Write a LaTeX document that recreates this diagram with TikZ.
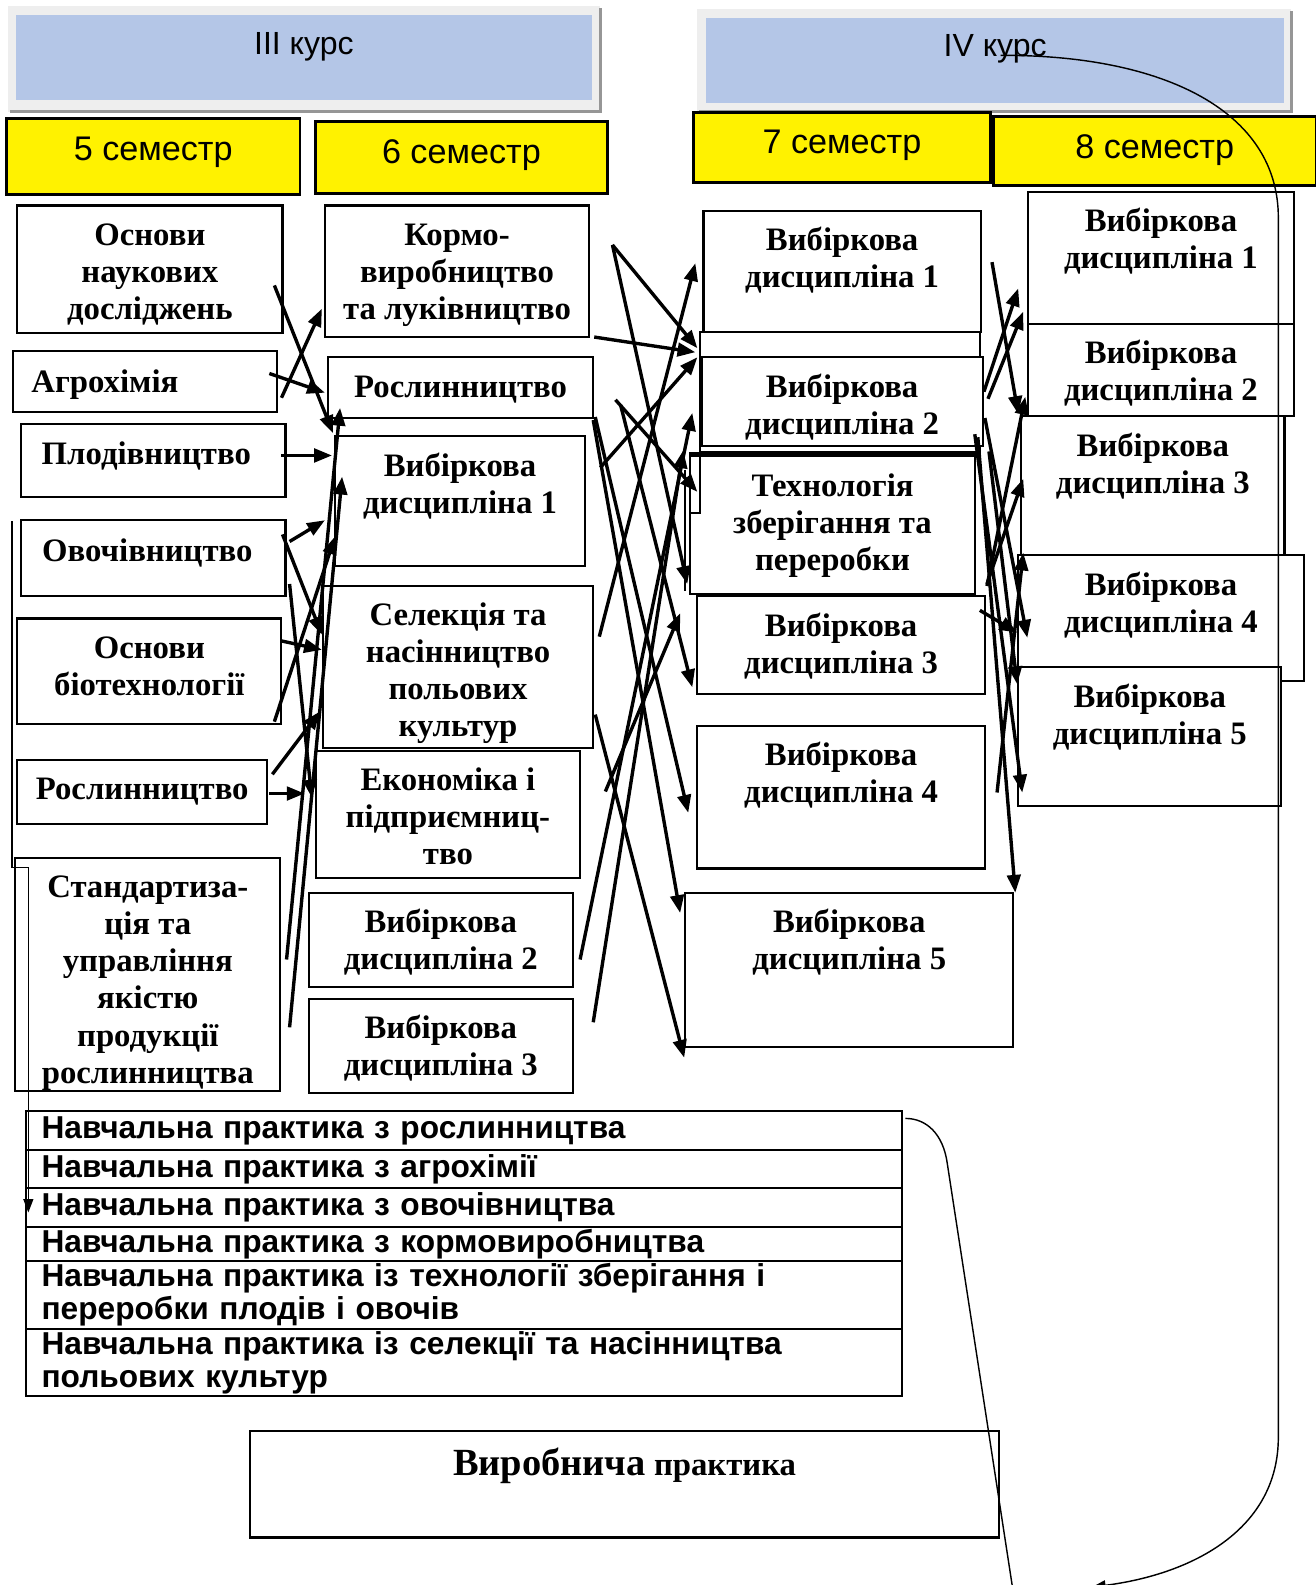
\documentclass[tikz,border=0pt]{standalone}
\usepackage{fontspec}
\setmainfont{Liberation Serif}
\newfontfamily\headfont{Liberation Sans}
\usetikzlibrary{arrows.meta}
\definecolor{kursblue}{RGB}{180,198,231}
\definecolor{framegray}{RGB}{238,238,238}
\definecolor{shadegray}{RGB}{150,150,150}
\newlength\pxu
\setlength\pxu{0.01cm}
% box of fixed size, text at the top
\newcommand{\toptext}[4]{\parbox[c][#2\pxu][t]{#1\pxu}{\centering\vspace*{#3\pxu}\strut#4}}
\begin{document}
\begin{tikzpicture}[x=0.01cm, y=-0.01cm,
    disc/.style={draw, fill=white, line width=0.6pt, anchor=north west, inner sep=0pt,
      font=\bfseries\fontsize{9.2}{10.4}\selectfont},
    sem/.style={draw, fill=yellow, line width=0.8pt, anchor=north west, inner sep=0pt,
      font=\headfont\fontsize{9.6}{11}\selectfont},
    kurs/.style={fill=kursblue, anchor=north west, inner sep=0pt,
      font=\headfont\fontsize{9}{10.8}\selectfont},
    pract/.style={draw, line width=0.6pt, anchor=north west, inner xsep=0.15cm, inner ysep=0pt,
      text width=8.35cm, align=left, font=\headfont\bfseries\fontsize{8.9}{9.3}\selectfont},
    arr/.style={line width=0.95pt, -{Triangle[length=5pt, width=3.8pt]}},
    thinarr/.style={line width=0.4pt, -{Triangle[length=3.8pt, width=2.8pt]}}]
  \fill[white] (0,0) rectangle (1300,1566);
  \useasboundingbox (0,0) rectangle (1300,1566);

  % Course headers
  \fill[framegray] (8,6) rectangle (593,111);
  \draw[shadegray, line width=0.8pt] (10,110) -- (593,110) -- (593,8);
  \node[kurs] (kurs3) at (15,14) {\toptext{569}{84}{12.5}{III курс}};
  \fill[framegray] (689,9) rectangle (1276,111);
  \draw[shadegray, line width=0.8pt] (691,110) -- (1276,110) -- (1276,11);
  \node[kurs] (kurs4) at (697,17) {\toptext{571}{84}{11.5}{IV курс}};

  % Semesters
  \foreach \nm/\bx/\by/\bw/\bh/\pad/\txt in {
    sem5/5/116/290/75/14.5/{5 семестр},
    sem6/310/119/289/71/14.5/{6 семестр},
    sem7/684/110/293/69/13.5/{7 семестр},
    sem8/980/114/319/68/14.5/{8 семестр}} {
    \node[sem] (\nm) at (\bx,\by) {\toptext{\bw}{\bh}{\pad}{\txt}};
  }

  % Disciplines, columns 5 and 6
  \foreach \nm/\bx/\by/\bw/\bh/\pad/\txt in {
    osnd/16/202/262/126/13.5/{Основи\\наукових\\досліджень},
    agro/12/346/261/60/15.5/{\raggedright\hspace*{18\pxu}Агрохімія},
    plod/20/418/261/72/14.5/{Плодівництво\hspace*{14\pxu}},
    ovoch/20/513/261/75/15.5/{Овочівництво\hspace*{12\pxu}},
    biot/16/610/261/104/13.5/{Основи\\біотехнології},
    roslA/16/750/247/63/13.5/{Рослинництво},
    stand/14/847/262/230/13.5/{Стандартиза-\\ція та\\управління\\якістю\\продукції\\рослинництва},
    korm/320/202/261/130/13.5/{Кормо-\\виробництво\\та луківництво},
    roslB/323/352/262/60/14.5/{Рослинництво},
    vyb6a/330/430/247/128/14.5/{Вибіркова\\дисципліна 1},
    sel/318/578/267/160/13.5/{Селекція та\\насінництво\\польових\\культур},
    econ/311/741/261/125/13.5/{Економіка і\\підприємниц-\\тво},
    vyb6b/304/881/261/93/13.5/{Вибіркова\\дисципліна 2},
    vyb6c/304/986/261/93/13.5/{Вибіркова\\дисципліна 3}} {
    \node[disc] (\nm) at (\bx,\by) {\toptext{\bw}{\bh}{\pad}{\txt}};
  }

  % Column 7
  \draw[line width=0.6pt, fill=white] (692,328) rectangle (968,447);
  \foreach \nm/\bx/\by/\bw/\bh/\pad/\txt in {
    vyb7a/694/207/274/120/13.5/{Вибіркова\\дисципліна 1},
    vyb7b/692/352/278/88/14.5/{Вибіркова\\дисципліна 2},
    tech/681/449/281/137/14.5/{Технологія\\зберігання та\\переробки},
    vyb7c/688/588/284/97/14.5/{Вибіркова\\дисципліна 3},
    vyb7d/688/716/284/141/13.5/{Вибіркова\\дисципліна 4},
    vyb7e/676/881/324/152/13.5/{Вибіркова\\дисципліна 5}} {
    \node[disc] (\nm) at (\bx,\by) {\toptext{\bw}{\bh}{\pad}{\txt}};
  }
  \draw[line width=0.6pt] (682,448) rectangle (692,507);
  \draw[line width=0.6pt] (677,464) -- (677,584);

  % Column 8
  \foreach \nm/\bx/\by/\bw/\bh/\pad/\txt in {
    vyb8a/1015/189/262/130/13.5/{Вибіркова\\дисципліна 1},
    vyb8b/1015/319/262/91/13.5/{Вибіркова\\дисципліна 2},
    vyb8c/1008/410/260/137/14.5/{Вибіркова\\дисципліна 3},
    vyb8d/1005/547/282/125/14.5/{Вибіркова\\дисципліна 4},
    vyb8e/1005/658/260/137/14.5/{Вибіркова\\дисципліна 5}} {
    \node[disc] (\nm) at (\bx,\by) {\toptext{\bw}{\bh}{\pad}{\txt}};
  }

  % Practice table
  \node[pract, minimum height=0.38cm] (t1) at (25,1097) {Навчальна практика з рослинництва};
  \node[pract, minimum height=0.38cm] (t2) at (25,1135) {Навчальна практика з агрохімії};
  \node[pract, minimum height=0.38cm] (t3) at (25,1173) {Навчальна практика з овочівництва};
  \node[pract, minimum height=0.34cm] (t4) at (25,1211) {Навчальна практика з кормовиробництва};
  \node[pract, minimum height=0.67cm] (t5) at (25,1245) {Навчальна практика із технології зберігання і\\переробки плодів і овочів};
  \node[pract, minimum height=0.66cm] (t6) at (25,1312) {Навчальна практика із селекції та насінництва\\польових культур};

  \node[disc] (vyrob) at (246,1413) {\toptext{740}{105}{17}{{\fontsize{10.8}{12}\selectfont Виробнича} практика}};

  % Links between semesters
  \foreach \src/\sx/\sy/\dst/\tx/\ty in {
    osnd.north east/-9/80/vyb6a.north west/-1/-2,
    agro.north east/3/47/korm.north west/-2/103,
    agro.north east/-9/23/roslB.north west/-2/36,
    plod.north east/-5/32/vyb6a.north west/-2/20,
    ovoch.north east/3/22/vyb6a.north west/-9/84,
    ovoch.north east/-4/15/sel.north west/0/49,
    ovoch.north east/3/64/econ.north west/-3/47,
    biot.north east/-2/23/sel.north west/0/64,
    biot.north east/-8/103/vyb6a.north west/1/100,
    roslA.north east/4/15/sel.north west/-2/125,
    roslA.north east/1/34/econ.north west/-10/43,
    stand.north east/5/101/roslB.north west/13/51,
    stand.north east/8/168/vyb6a.north west/8/41,
    korm.north east/22/40/vyb7b.north west/-3/-8,
    korm.north east/22/40/tech.north west/-2/128,
    korm.north east/4/131/vyb7b.north west/-5/-4,
    vyb6a.north east/14/32/vyb7b.north west/-3/1,
    roslB.north east/21/43/tech.north west/8/37,
    roslB.north east/26/48/vyb7c.north west/-4/91,
    roslB.north east/1/60/vyb7d.north west/-8/87,
    roslB.north east/-1/63/vyb7e.north west/-4/21,
    sel.north east/5/51/vyb7a.north west/-7/53,
    econ.north east/24/41/vyb7c.north west/-16/18,
    vyb6b.north east/6/67/vyb7b.north west/-8/56,
    vyb6c.north east/19/24/tech.north west/-6/-4,
    sel.north east/1/128/vyb7e.north west/0/164,
    vyb7a.north east/10/52/vyb8c.north west/-2/-1,
    vyb7b.north east/0/35/vyb8a.north west/-9/96,
    vyb7b.north east/4/42/vyb8a.north west/-4/119,
    vyb7b.north east/1/61/vyb8d.north west/10/83,
    vyb7b.north east/-9/77/vyb8e.north west/5/125,
    vyb7b.north east/-6/80/vyb7e.north east/1/1,
    tech.north east/11/130/vyb8b.north west/-2/73,
    tech.north east/11/128/vyb8c.north west/3/63,
    vyb7d.north east/11/67/vyb8d.north west/6/-1,
    vyb7c.north east/-6/15/vyb8d.north west/0/78,
    vyb7b.north east/5/94/vyb8d.north west/0/129} {
    \draw[arr] ([shift={(\sx,\sy)}]\src) -- ([shift={(\tx,\ty)}]\dst);
  }

  % Left line down to the practice table
  \draw[thinarr] ([shift={(-8,2)}]ovoch.north west) -- ++(0,342) -- ++(16,0)
    -- ([shift={(3,25)}]t3.north west);

  % Long curves
  \coordinate (curveEnd) at (1079,1568);
  \coordinate (prodEnd) at (1000,1566);
  \draw[thinarr] ([shift={(5.5,-5)}]kurs4.center) .. controls (1150,54) and (1263,110) .. (1263,215)
    -- (1263,1420) .. controls (1263,1510) and (1180,1555) .. (curveEnd);
  \draw[line width=0.4pt] ([shift={(2,8)}]t1.north east) .. controls (915,1105) and (932,1120) .. (936,1150)
    -- (prodEnd);
\end{tikzpicture}
\end{document}
